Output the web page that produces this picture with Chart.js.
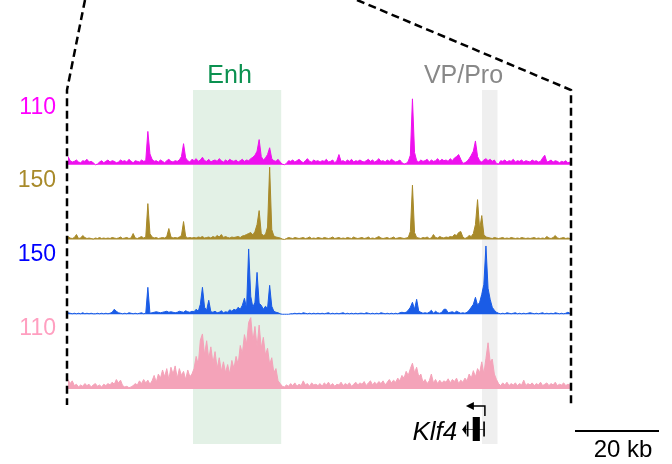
<!DOCTYPE html>
<html>
<head>
<meta charset="utf-8">
<script src="https://cdn.jsdelivr.net/npm/chart.js@4.4.1/dist/chart.umd.min.js"></script>
<style>
  html, body { margin: 0; padding: 0; background: #fff; }
  #wrap { width: 672px; height: 464px; }
</style>
</head>
<body>
<div id="wrap"><canvas id="chart" width="672" height="464"></canvas></div>
<script>
// 120 kb window, 0.5 kb bins
const binKb = 0.5;
const windowKb = 120;

const trackLabels = ['110', '150', '150', '110'];
const trackMax = [110, 150, 150, 110];

const magentaSignal = [
  12, 6, 4, 5, 7, 4, 3, 6, 5, 8, 4, 5, 3, 0, 1, 4, 6, 3, 5, 7,
  4, 6, 5, 3, 4, 7, 5, 6, 4, 8, 5, 3, 6, 5, 4, 7, 5, 6, 49, 16,
  8, 5, 6, 4, 7, 5, 3, 6, 8, 5, 4, 6, 5, 7, 12, 31, 10, 6, 4, 8,
  6, 9, 5, 7, 11, 6, 5, 8, 4, 6, 7, 5, 9, 6, 4, 7, 5, 8, 6, 5,
  7, 4, 6, 8, 5, 7, 6, 9, 11, 14, 20, 37, 12, 7, 10, 15, 25, 9, 6, 5,
  8, 4, 1, 0, 2, 6, 5, 7, 4, 6, 8, 5, 3, 6, 9, 5, 4, 7, 5, 6,
  4, 6, 5, 8, 4, 5, 7, 3, 6, 15, 5, 6, 4, 7, 5, 8, 4, 6, 5, 7,
  5, 4, 6, 8, 5, 7, 4, 6, 9, 5, 6, 4, 7, 5, 8, 6, 4, 5, 7, 3,
  1, 2, 5, 14, 97, 18, 6, 4, 7, 5, 6, 8, 4, 7, 5, 6, 9, 5, 8, 6,
  7, 5, 9, 6, 10, 12, 15, 8, 2, 3, 5, 9, 14, 20, 35, 12, 6, 4, 7, 9,
  6, 8, 5, 7, 2, 1, 6, 5, 7, 4, 6, 5, 8, 4, 6, 5, 7, 4, 6, 5,
  4, 7, 5, 6, 4, 5, 10, 14, 4, 5, 7, 4, 6, 5, 3, 5, 4, 6, 3, 4
];

const goldSignal = [
  6, 3, 2, 4, 10, 2, 3, 8, 4, 2, 3, 2, 1, 3, 2, 4, 2, 3, 2, 3,
  2, 4, 3, 2, 3, 5, 2, 3, 4, 2, 3, 12, 3, 2, 4, 6, 3, 5, 72, 12,
  5, 3, 4, 2, 3, 4, 3, 6, 22, 5, 3, 4, 3, 5, 8, 36, 6, 3, 4, 3,
  4, 3, 5, 4, 6, 3, 4, 5, 3, 6, 4, 8, 5, 10, 4, 6, 4, 3, 5, 4,
  5, 6, 4, 7, 8, 10, 12, 14, 9, 16, 30, 58, 12, 8, 10, 25, 145, 20, 7, 5,
  4, 3, 1, 0, 2, 4, 3, 2, 4, 3, 2, 3, 4, 2, 3, 5, 2, 3, 2, 4,
  3, 2, 4, 3, 2, 3, 5, 2, 3, 4, 2, 3, 2, 4, 3, 2, 5, 3, 2, 3,
  4, 2, 3, 5, 2, 3, 2, 4, 6, 3, 2, 3, 4, 2, 3, 5, 2, 3, 4, 3,
  2, 3, 4, 16, 109, 14, 4, 3, 2, 4, 3, 5, 2, 3, 10, 4, 3, 6, 4, 3,
  5, 4, 6, 5, 10, 8, 14, 16, 5, 2, 4, 8, 6, 12, 30, 80, 20, 48, 10, 5,
  4, 3, 2, 4, 3, 2, 3, 4, 2, 3, 2, 4, 3, 2, 3, 2, 4, 3, 2, 3,
  2, 3, 4, 2, 3, 2, 3, 2, 6, 3, 2, 4, 8, 3, 2, 3, 4, 2, 3, 2
];

const blueSignal = [
  3, 2, 1, 2, 1, 2, 1, 3, 1, 2, 1, 2, 1, 1, 2, 1, 2, 1, 2, 1,
  2, 4, 10, 6, 3, 2, 1, 2, 1, 3, 2, 1, 2, 1, 2, 3, 1, 2, 54, 2,
  3, 4, 5, 4, 3, 4, 5, 6, 4, 5, 4, 3, 4, 6, 5, 4, 7, 5, 4, 6,
  5, 10, 6, 20, 54, 14, 8, 28, 5, 4, 6, 3, 4, 7, 3, 5, 4, 9, 6, 10,
  8, 14, 10, 18, 32, 12, 131, 36, 14, 24, 84, 22, 18, 10, 16, 12, 58, 16, 6, 4,
  3, 1, 0, 0, 0, 0, 1, 1, 2, 1, 2, 1, 3, 2, 1, 2, 1, 2, 1, 2,
  1, 2, 1, 2, 3, 1, 2, 1, 2, 1, 2, 3, 1, 2, 1, 2, 1, 2, 1, 2,
  2, 1, 3, 2, 1, 2, 1, 2, 1, 3, 2, 1, 2, 1, 2, 1, 2, 1, 3, 4,
  3, 4, 8, 14, 24, 10, 30, 6, 4, 2, 3, 2, 4, 8, 2, 6, 3, 2, 4, 10,
  10, 3, 4, 5, 3, 6, 4, 2, 3, 2, 4, 8, 14, 20, 34, 18, 24, 40, 60, 137,
  52, 30, 14, 8, 4, 2, 1, 2, 1, 3, 2, 1, 2, 3, 1, 2, 1, 2, 1, 2,
  3, 2, 1, 2, 1, 2, 3, 1, 2, 1, 2, 1, 3, 2, 1, 2, 1, 2, 4, 2
];

const pinkSignal = [
  14, 8, 12, 5, 7, 3, 6, 4, 8, 5, 7, 3, 6, 8, 4, 6, 3, 7, 5, 8,
  6, 10, 7, 14, 9, 13, 5, 3, 4, 2, 3, 5, 8, 6, 12, 8, 14, 9, 13, 7,
  12, 20, 10, 22, 16, 28, 18, 30, 14, 32, 22, 34, 16, 30, 20, 26, 14, 28, 18, 22,
  30, 48, 36, 72, 81, 50, 71, 44, 62, 38, 55, 30, 46, 26, 40, 24, 36, 22, 42, 30,
  48, 36, 64, 52, 80, 66, 98, 105, 70, 92, 62, 94, 60, 76, 50, 60, 36, 46, 24, 30,
  12, 8, 4, 3, 6, 4, 8, 5, 9, 4, 7, 5, 12, 6, 8, 4, 9, 6, 7, 5,
  8, 4, 9, 6, 10, 5, 8, 4, 7, 6, 10, 5, 8, 6, 9, 4, 7, 10, 6, 9,
  7, 11, 5, 9, 12, 6, 10, 7, 11, 8, 12, 6, 10, 14, 9, 13, 10, 16, 12, 20,
  16, 26, 20, 30, 38, 24, 32, 18, 22, 10, 14, 8, 12, 22, 9, 14, 8, 13, 9, 12,
  10, 15, 9, 14, 11, 16, 8, 13, 10, 16, 12, 22, 16, 27, 18, 30, 24, 40, 22, 45,
  68, 40, 44, 22, 14, 8, 5, 9, 6, 10, 5, 8, 6, 9, 5, 8, 6, 13, 5, 8,
  6, 9, 5, 8, 6, 10, 5, 7, 9, 5, 8, 6, 10, 5, 7, 6, 9, 5, 7, 6
];

// highlighted regions (kb)
const regionNames = ['Enh', 'VP/Pro'];
const regionStartKb = [30.0, 98.8];
const regionEndKb = [51.0, 102.5];
const regionLabelKb = [38.7, 94.4];

// Klf4 gene model (kb), minus strand
const geneName = 'Klf4';
const geneStartKb = 94.1;
const geneEndKb = 99.5;
const exonStartKb = [95.2, 96.6, 99.1];
const exonEndKb = [95.6, 98.3, 99.5];
const scaleBarKb = 20;

const fontFamily = '"Liberation Sans", Arial, Helvetica, sans-serif';
const trackColors = ['#ee11ee', '#a88a2a', '#1a5ce6', '#f4a3b9'];
const labelColors = ['#ff00ff', '#a88a2a', '#0000ff', '#ff9fc0'];
const axisIds = ['yMag', 'yGold', 'yBlue', 'yPink'];
const signals = [magentaSignal, goldSignal, blueSignal, pinkSignal];

const toPoints = (values) => values.map((v, i) => ({ x: i * binKb + binKb / 2, y: v }));

const datasets = signals.map((values, i) => ({
  label: trackLabels[i],
  data: toPoints(values),
  yAxisID: axisIds[i],
  borderColor: trackColors[i],
  backgroundColor: trackColors[i],
  borderWidth: 1,
  pointRadius: 0,
  tension: 0,
  fill: 'origin',
  clip: false,
}));

const scales = {
  x: { type: 'linear', min: 0, max: windowKb, display: false },
};
// stacked track axes: the last one defined sits on top
[3, 2, 1, 0].forEach((i) => {
  scales[axisIds[i]] = {
    type: 'linear',
    position: 'left',
    stack: 'tracks',
    stackWeight: 1,
    min: 0,
    max: trackMax[i],
    display: false,
  };
});

function strokePath(ctx, points) {
  ctx.beginPath();
  ctx.moveTo(points[0][0], points[0][1]);
  for (let i = 1; i < points.length; i++) {
    ctx.lineTo(points[i][0], points[i][1]);
  }
  ctx.stroke();
}

const annotations = {
  id: 'annotations',
  beforeDatasetsDraw(chart) {
    const { ctx, chartArea, scales: { x } } = chart;
    const shadeBottom = chartArea.bottom + 55;
    ctx.save();
    regionNames.forEach((name, i) => {
      const x0 = x.getPixelForValue(regionStartKb[i]);
      const x1 = x.getPixelForValue(regionEndKb[i]);
      ctx.fillStyle = i === 0 ? '#e3f1e6' : '#efefef';
      ctx.fillRect(x0, chartArea.top, x1 - x0, shadeBottom - chartArea.top);
    });
    ctx.restore();
  },
  afterDraw(chart) {
    const { ctx, chartArea, scales: { x } } = chart;
    ctx.save();

    // zoom-in dashed outline
    ctx.strokeStyle = '#000';
    ctx.lineWidth = 2.5;
    ctx.setLineDash([8, 4.5]);
    const outlineBottom = chartArea.bottom + 16;
    strokePath(ctx, [[85, 0], [chartArea.left, chartArea.top], [chartArea.left, outlineBottom]]);
    strokePath(ctx, [[357, 0], [chartArea.right, chartArea.top], [chartArea.right, outlineBottom]]);
    ctx.setLineDash([]);

    // track scale labels
    const labelOffsets = [24, 22, 21.5, 21];
    ctx.font = `23px ${fontFamily}`;
    ctx.textAlign = 'right';
    ctx.textBaseline = 'alphabetic';
    axisIds.forEach((id, i) => {
      const s = chart.scales[id];
      ctx.fillStyle = labelColors[i];
      ctx.fillText(trackLabels[i], chartArea.left - 11, s.top + labelOffsets[i]);
    });

    // region names
    ctx.font = `25px ${fontFamily}`;
    ctx.textAlign = 'center';
    regionNames.forEach((name, i) => {
      ctx.fillStyle = i === 0 ? '#0b9150' : '#888888';
      ctx.fillText(name, x.getPixelForValue(regionLabelKb[i]), chartArea.top - 7);
    });

    // gene model
    const gy = chartArea.bottom + 40;
    const gx0 = x.getPixelForValue(geneStartKb);
    const gx1 = x.getPixelForValue(geneEndKb);
    ctx.strokeStyle = '#666';
    ctx.lineWidth = 1;
    strokePath(ctx, [[gx0, gy + 0.5], [gx1, gy + 0.5]]);
    ctx.fillStyle = '#000';
    ctx.beginPath();
    ctx.moveTo(gx0, gy + 0.5);
    ctx.lineTo(gx0 + 4, gy - 5);
    ctx.lineTo(gx0 + 4, gy + 6);
    ctx.closePath();
    ctx.fill();
    exonStartKb.forEach((s, i) => {
      const ex0 = x.getPixelForValue(s);
      const ex1 = x.getPixelForValue(exonEndKb[i]);
      const half = i === 1 ? 12 : 7.5;
      ctx.fillRect(ex0, gy - half, Math.max(1.5, ex1 - ex0), half * 2);
    });
    // TSS arrow
    const tx = gx1;
    ctx.strokeStyle = '#000';
    ctx.lineWidth = 1.5;
    strokePath(ctx, [[tx, gy - 13], [tx, gy - 23], [tx - 12, gy - 23]]);
    ctx.beginPath();
    ctx.moveTo(tx - 19, gy - 23);
    ctx.lineTo(tx - 11, gy - 27);
    ctx.lineTo(tx - 11, gy - 19);
    ctx.closePath();
    ctx.fill();

    ctx.font = `italic 26px ${fontFamily}`;
    ctx.textAlign = 'right';
    ctx.fillText(geneName, gx0 - 5, gy + 11);

    // scale bar
    const barLen = x.getPixelForValue(scaleBarKb) - x.getPixelForValue(0);
    const bx = chartArea.right + 4;
    ctx.fillRect(bx, gy + 1, barLen, 2);
    ctx.font = `24px ${fontFamily}`;
    ctx.textAlign = 'center';
    ctx.fillText(`${scaleBarKb} kb`, bx + barLen / 2 + 6, gy + 28);

    ctx.restore();
  },
};

new Chart(document.getElementById('chart'), {
  type: 'line',
  data: { datasets },
  options: {
    responsive: false,
    animation: false,
    layout: { padding: { left: 67, right: 101, top: 90, bottom: 75 } },
    plugins: { legend: { display: false }, tooltip: { enabled: false } },
    scales,
  },
  plugins: [annotations],
});
</script>
</body>
</html>
